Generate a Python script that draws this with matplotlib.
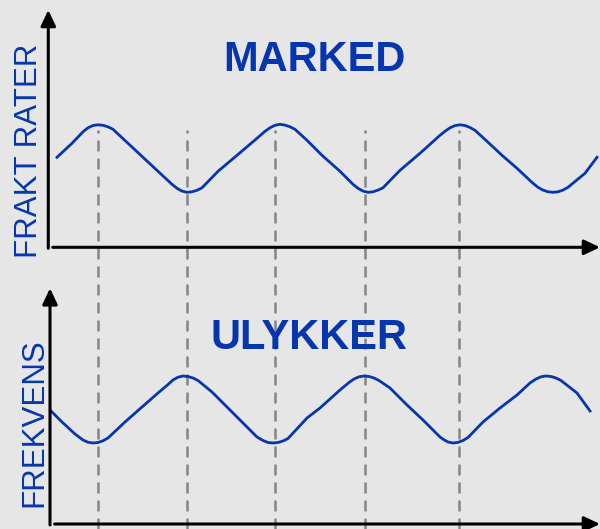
import matplotlib
matplotlib.use("Agg")
import matplotlib.pyplot as plt

# time axis values shared by both panels (arbitrary units)
tid_marked = [5.7, 7.2, 8.3, 8.8, 9.3, 9.8, 10.3, 10.8, 11.3, 12.8, 14.3, 15.8,
              17.2, 17.7, 18.2, 18.7, 19.2, 19.7, 20.2, 21.8, 23.7, 25.7, 26.5,
              27.0, 27.5, 28.0, 28.5, 29.0, 29.5, 30.7, 32.2, 34.0, 35.3, 35.8,
              36.3, 36.8, 37.3, 37.8, 38.3, 40.0, 42.0, 44.0, 44.5, 45.0, 45.5,
              46.0, 46.5, 47.0, 47.5, 48.7, 50.2, 51.7, 53.3, 53.8, 54.3, 54.8,
              55.3, 55.8, 56.3, 56.8, 58.5, 59.7]
frakt_rater = [9.0, 10.4, 11.55, 11.95, 12.18, 12.25, 12.2, 12.05, 11.8, 10.4, 9.0, 7.6,
               6.3, 5.9, 5.62, 5.5, 5.55, 5.7, 5.95, 7.6, 9.2, 10.9, 11.6,
               11.95, 12.2, 12.3, 12.22, 12.05, 11.8, 10.7, 9.2, 7.6, 6.3, 5.9,
               5.62, 5.5, 5.55, 5.72, 5.95, 7.7, 9.4, 11.2, 11.6, 11.95, 12.17,
               12.25, 12.18, 11.98, 11.7, 10.6, 9.2, 7.9, 6.4, 6.0, 5.72, 5.55,
               5.5, 5.55, 5.72, 6.0, 7.4, 9.0]

tid_ulykker = [5.1, 6.2, 7.5, 8.3, 8.8, 9.3, 9.8, 10.3, 10.8, 12.5, 14.2, 15.8,
               16.8, 17.3, 17.8, 18.3, 18.8, 19.3, 19.8, 21.2, 22.7, 24.0, 25.7,
               26.3, 26.8, 27.3, 27.8, 28.3, 28.8, 30.7, 32.0, 34.0, 34.9, 35.4,
               35.9, 36.4, 36.9, 37.4, 37.9, 39.0, 40.7, 42.3, 44.0, 44.4, 44.8,
               45.3, 45.8, 46.3, 46.8, 48.3, 50.0, 51.7, 53.0, 53.6, 54.1, 54.6,
               55.1, 55.6, 56.1, 57.7, 59.0]
frekvens = [11.3, 10.2, 9.0, 8.4, 8.17, 8.1, 8.15, 8.32, 8.6, 10.2, 11.7, 13.1,
            13.95, 14.4, 14.68, 14.8, 14.75, 14.6, 14.35, 13.2, 11.7, 10.4, 8.7,
            8.35, 8.15, 8.1, 8.15, 8.3, 8.55, 10.6, 11.6, 13.4, 14.15, 14.5,
            14.72, 14.8, 14.75, 14.6, 14.35, 13.6, 11.9, 10.4, 8.7, 8.42, 8.2,
            8.1, 8.16, 8.35, 8.65, 10.2, 11.6, 12.9, 14.1, 14.5, 14.72, 14.8,
            14.75, 14.6, 14.35, 13.1, 11.3]

# moments linking the two series
koblinger = [9.75, 18.65, 27.45, 36.45, 45.9]

titler = ["MARKED", "ULYKKER"]
ylabels = ["FRAKT RATER", "FREKVENS"]

BG = "#e6e6e6"
BLUE = "#0536ad"
FONT = "Liberation Sans"

fig = plt.figure(figsize=(6, 5.29), dpi=100, facecolor=BG)

# overlay for the dashed guide lines across both panels
over = fig.add_axes([0, 0, 1, 1], zorder=0)
over.set_xlim(0, 60)
over.set_ylim(0, 1)
over.axis("off")
over.vlines(koblinger, 0, 1 - 130 / 529, colors="#858585", lw=1.8,
            linestyles=(0, (4.4, 2.8)))

ax1 = fig.add_axes([48.3 / 600, (529 - 247.3) / 529, 551.7 / 600, 237.3 / 529], zorder=1)
ax2 = fig.add_axes([50 / 600, 5 / 529, 550 / 600, 235.7 / 529], zorder=1)
ax1.set_xlim(4.83, 60.0)
ax1.set_ylim(0, 23.73)
ax2.set_xlim(5.0, 60.0)
ax2.set_ylim(0, 23.57)

ax1.plot(tid_marked, frakt_rater, color=BLUE, lw=2, solid_joinstyle="round")
ax2.plot(tid_ulykker, frekvens, color=BLUE, lw=2, solid_joinstyle="round")

arrow = dict(arrowstyle="-|>,head_length=0.95,head_width=0.45", color="black",
             lw=2.2, shrinkA=0, shrinkB=0, mutation_scale=10)
for ax, gap in [(ax1, 0.008), (ax2, 0.0085)]:
    ax.patch.set_visible(False)
    for s in ax.spines.values():
        s.set_visible(False)
    ax.set_xticks([])
    ax.set_yticks([])
    ax.annotate("", xy=(0, 1), xytext=(0, -0.004), xycoords="axes fraction",
                textcoords="axes fraction", arrowprops=arrow, annotation_clip=False)
    ax.annotate("", xy=(1, 0), xytext=(gap, 0), xycoords="axes fraction",
                textcoords="axes fraction", arrowprops=arrow, annotation_clip=False)

fig.text(314 / 600, 1 - 70.7 / 529, titler[0], ha="center", va="baseline",
         fontsize=30, fontweight="bold", color=BLUE, family=FONT)
fig.text(309.3 / 600, 1 - 349 / 529, titler[1], ha="center", va="baseline",
         fontsize=30, fontweight="bold", color=BLUE, family=FONT)

fig.text(37.5 / 600, 1 - 151.3 / 529, ylabels[0], rotation=90, rotation_mode="anchor",
         ha="center", va="baseline", fontsize=22.5, color=BLUE, family=FONT)
fig.text(42 / 600, 1 - 422.8 / 529, ylabels[1], rotation=90, rotation_mode="anchor",
         ha="center", va="baseline", fontsize=22.5, color=BLUE, family=FONT)

fig.savefig("out.png", dpi=100, facecolor=BG)
